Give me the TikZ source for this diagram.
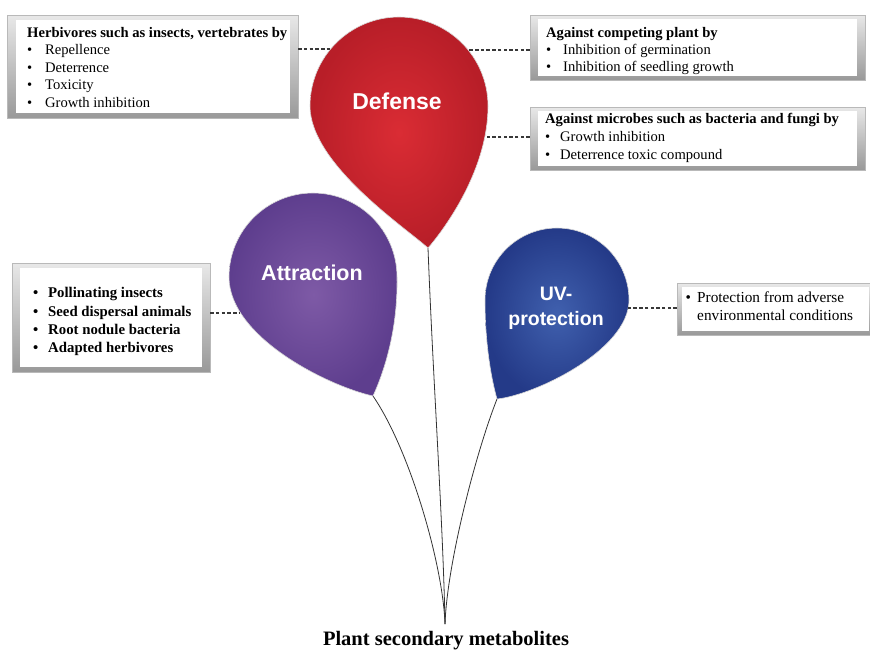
\documentclass[tikz,border=0pt]{standalone}
\usepackage{fontspec}
\setmainfont{Liberation Serif}
\newfontfamily\balfont{Liberation Sans}
\definecolor{redIn}{RGB}{218,44,52}
\definecolor{redOut}{RGB}{184,30,40}
\definecolor{purIn}{RGB}{126,90,166}
\definecolor{purOut}{RGB}{94,62,142}
\definecolor{bluIn}{RGB}{64,96,174}
\definecolor{bluOut}{RGB}{36,58,136}
\newcommand{\bul}[1]{\makebox[#1][l]{\textbullet}}
\begin{document}
\begin{tikzpicture}[x=1pt,y=-1pt,
  frame/.style={inner sep=0pt, top color=gray!18, bottom color=gray!80, draw=gray!55, line width=0.4pt},
  innerbox/.style={inner sep=0pt, fill=white},
  boxtext/.style={inner sep=0pt, anchor=north west, align=left},
  ballabel/.style={text=white, align=center, inner sep=0pt},
  link/.style={draw=black!78, dash pattern=on 3.5pt off 2.2pt, line width=1.2pt},
  stringline/.style={draw=black!80, line width=0.8pt},
  balloon/.style={draw=white!85!black, line width=0.6pt},
]
\useasboundingbox (0,0) rectangle (870,649);

% ---------- boxes ----------
\node[frame, minimum width=291pt, minimum height=103pt] (b1) at (152.5,66.5) {};
\node[innerbox, minimum width=274pt, minimum height=93pt] (i1) at (b1.center) {};
\node[boxtext, font=\fontsize{14.6}{17.5}\selectfont] (t1) at (27,27)
 {\textbf{Herbivores such as insects, vertebrates by}\\
  \bul{18pt}Repellence\\ \bul{18pt}Deterrence\\ \bul{18pt}Toxicity\\ \bul{18pt}Growth inhibition};

\node[frame, minimum width=335pt, minimum height=65pt] (b2) at (697.5,47.5) {};
\node[innerbox, minimum width=319pt, minimum height=57pt] (i2) at (b2.center) {};
\node[boxtext, font=\fontsize{14.6}{17.2}\selectfont] (t2) at (546,27)
 {\textbf{Against competing plant by}\\
  \bul{17pt}Inhibition of germination\\ \bul{17pt}Inhibition of seedling growth};

\node[frame, minimum width=335pt, minimum height=63pt] (b3) at (697.5,138.5) {};
\node[innerbox, minimum width=319pt, minimum height=55pt] (i3) at (b3.center) {};
\node[boxtext, font=\fontsize{14.6}{18}\selectfont] (t3) at (545,113)
 {\textbf{Against microbes such as bacteria and fungi by}\\
  \bul{15pt}Growth inhibition\\ \bul{15pt}Deterrence toxic compound};

\node[frame, minimum width=198pt, minimum height=109pt] (b4) at (111,317.5) {};
\node[innerbox, minimum width=182pt, minimum height=99pt] (i4) at (b4.center) {};
\node[boxtext, font=\bfseries\fontsize{14.8}{18.3}\selectfont] (t4) at (33,287.5)
 {\bul{15pt}Pollinating insects\\ \bul{15pt}Seed dispersal animals\\
  \bul{15pt}Root nodule bacteria\\ \bul{15pt}Adapted herbivores};

\node[frame, minimum width=197pt, minimum height=52pt] (b5) at (775.5,309) {};
\node[innerbox, minimum width=187pt, minimum height=44pt] (i5) at (b5.center) {};
\node[boxtext, font=\fontsize{15.3}{18}\selectfont] (t5) at (685.5,291.5)
 {\bul{11.5pt}Protection from adverse\\ \hspace*{11.5pt}environmental conditions};

% ---------- named points ----------
\coordinate (redTip) at (428,248);
\coordinate (purTip) at (373,396);
\coordinate (bluTip) at (497,399);
\coordinate (root) at (445,624);
\coordinate (defL) at (331,49);
\coordinate (defR) at (468,50);
\coordinate (defR2) at (487,137);
\coordinate (attL) at (240,313);
\coordinate (uvR) at (628,308);

% ---------- strings ----------
\draw[stringline] (redTip) .. controls (433,380) and (443,520) .. (root);
\draw[stringline] (purTip) .. controls (410,450) and (443,565) .. (root);
\draw[stringline] (bluTip) .. controls (475,455) and (447,565) .. (root);

% ---------- balloons ----------
\path[balloon, inner color=redIn, outer color=redOut]
  (redTip) .. controls (447,226) and (488,168) .. (488,106)
  arc[start angle=0, end angle=-180, radius=89]
  .. controls (310,164) and (406,228) .. (redTip) -- cycle;
\path[balloon, inner color=purIn, outer color=purOut]
  (purTip) .. controls (384,372) and (398,330) .. (397,277)
  arc[start angle=0, end angle=-180, radius=84]
  .. controls (229,337) and (328,386) .. (purTip) -- cycle;
\path[balloon, inner color=bluIn, outer color=bluOut]
  (bluTip) .. controls (535,395) and (629,350) .. (629,300)
  arc[start angle=0, end angle=-180, radius=72]
  .. controls (485,350) and (493,385) .. (bluTip) -- cycle;

\node[ballabel, font=\balfont\bfseries\fontsize{23}{26}\selectfont] (defense) at (397,101) {Defense};
\node[ballabel, font=\balfont\bfseries\fontsize{21.5}{25}\selectfont] (attraction) at (312,273) {Attraction};
\node[ballabel, font=\balfont\bfseries\fontsize{19.5}{25}\selectfont] (uv) at (556,308) {UV-\\protection};

% ---------- dashed links ----------
\draw[link] (b1.east |- defL) -- (defL);
\draw[link] (b2.west |- defR) -- (defR);
\draw[link] (b3.west |- defR2) -- (defR2);
\draw[link] (b4.east |- attL) -- (attL);
\draw[link] (b5.west |- uvR) -- (uvR);

% ---------- title ----------
\node[font=\bfseries\fontsize{20.5}{24}\selectfont, anchor=base, inner sep=0pt] (title) at (446,645) {Plant secondary metabolites};
\end{tikzpicture}
\end{document}
